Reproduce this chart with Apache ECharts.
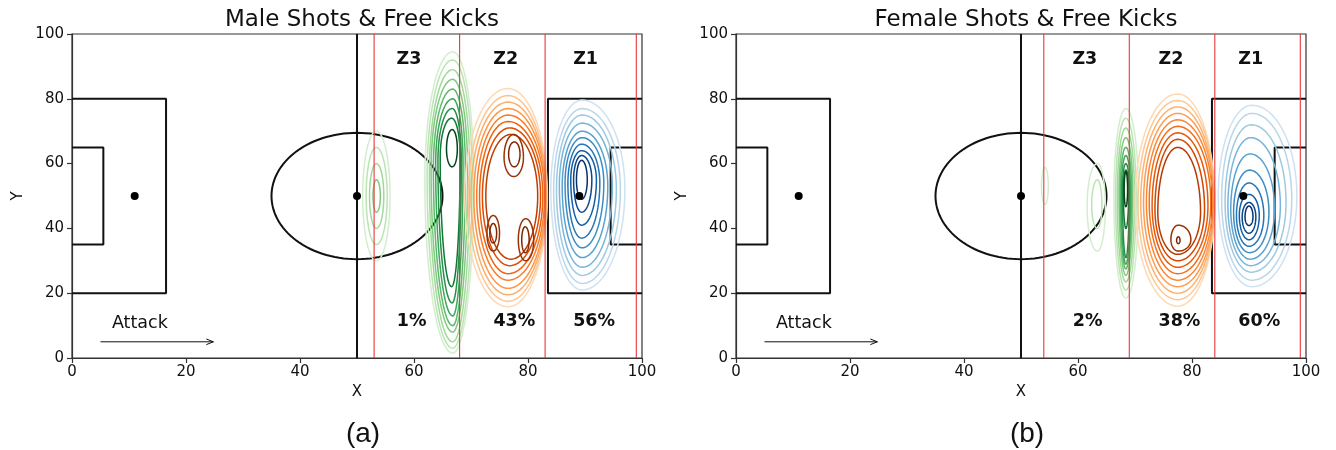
<!DOCTYPE html>
<html>
<head>
<meta charset="utf-8">
<script src="https://cdn.jsdelivr.net/npm/echarts@6/dist/echarts.min.js"></script>
<style>
html,body{margin:0;padding:0;background:#fff;}
#chart{width:1336px;height:450px;}
</style>
</head>
<body>
<div id="chart"></div>
<script>
// ---------------- DATA ----------------
const panelTitles = ['Male Shots & Free Kicks', 'Female Shots & Free Kicks'];
const panelTags = ['(a)', '(b)'];
const axisNames = ['X', 'Y'];
const axisMin = 0, axisMax = 100, tickStep = 20;

const zoneNames = ['Z3', 'Z2', 'Z1'];
const zoneBoundsMale = [53, 68, 83, 99];
const zoneBoundsFemale = [54, 69, 84, 99];
const zoneShareMale = ['1%', '43%', '56%'];
const zoneShareFemale = ['2%', '38%', '60%'];
const zoneNameXMale = [59.1, 76.1, 90.1];
const zoneShareXMale = [59.6, 77.6, 91.6];
const zoneNameXFemale = [61.2, 76.3, 90.3];
const zoneShareXFemale = [61.7, 77.8, 91.8];
const zoneNameY = 92;
const zoneShareY = 11.4;

// pitch geometry (data units)
const halfwayLine = [[50, 0], [50, 100]];
const penaltyBoxLeft = [[0, 80], [16.5, 80], [16.5, 20], [0, 20]];
const penaltyBoxRight = [[100, 80], [83.5, 80], [83.5, 20], [100, 20]];
const goalBoxLeft = [[0, 65], [5.5, 65], [5.5, 35], [0, 35]];
const goalBoxRight = [[100, 65], [94.5, 65], [94.5, 35], [100, 35]];
const centreCircle = [[50, 50, 15, 19.5]]; // cx, cy, rx, ry
const spots = [[11, 50], [50, 50], [89, 50]];
const attackArrow = [[5, 5, 24.8, 5]];
const attackLabel = { text: 'Attack', x: 7, y: 10.8 };

// contour levels: [level, xLeft, xRight, yBottom, yTop, xCentre, yCentre]
const maleGreen = [
  [0, 51.0, 55.8, 30, 70, 53.4, 50],
  [1, 51.6, 55.3, 35, 65, 53.4, 50],
  [2, 52.2, 54.7, 40, 60, 53.4, 50],
  [3, 52.8, 54.1, 45, 55, 53.4, 50],
  [0, 61.9, 70.5, 1.5, 94.5, 66.8, 55],
  [1, 62.3, 70.2, 3, 92, 66.8, 56],
  [2, 62.7, 69.8, 5, 89, 66.8, 57],
  [3, 63.0, 69.4, 8, 86, 66.8, 58],
  [4, 63.4, 69.0, 10, 83, 66.8, 59],
  [5, 63.8, 68.6, 13, 80, 66.8, 60],
  [6, 64.2, 68.3, 17, 77, 66.7, 61],
  [7, 64.6, 68.1, 22, 74, 66.6, 62],
  [9, 65.7, 67.6, 59, 70.5, 66.7, 64.5]
];
const maleOrange = [
  [0, 68.9, 83.4, 15.8, 83.2, 76.5, 50],
  [1, 69.5, 83.3, 17.5, 81, 76.5, 50],
  [2, 70.0, 83.2, 19.5, 79, 76.5, 50],
  [3, 70.5, 83.1, 21.5, 77, 76.5, 50],
  [4, 71.0, 82.9, 24, 75, 76.5, 50],
  [5, 71.5, 82.6, 26, 73, 76.5, 50],
  [6, 72.0, 82.2, 28.5, 71, 76.8, 50],
  [7, 72.6, 81.7, 30.5, 69, 77.0, 50],
  [8, 75.8, 79.2, 56, 69, 77.5, 62],
  [8, 72.8, 75.0, 33, 44, 73.9, 38.5],
  [8, 78.3, 81.0, 30, 43, 79.6, 36.5],
  [9, 76.6, 78.6, 59, 66.7, 77.6, 63],
  [9, 73.3, 74.5, 35.5, 41.5, 73.9, 38.5],
  [9, 78.9, 80.2, 32.5, 40.5, 79.5, 36.5]
];
const maleBlue = [
  [0, 84.0, 97.0, 21, 79.6, 89.5, 52],
  [1, 84.5, 96.2, 23, 77, 89.5, 52],
  [2, 85.0, 95.5, 25.5, 75, 89.5, 52],
  [3, 85.5, 94.8, 28, 72.5, 89.5, 53],
  [4, 86.0, 94.0, 31, 70, 89.5, 53],
  [5, 86.5, 93.3, 34, 68, 89.5, 54],
  [6, 87.0, 92.6, 37, 66, 89.4, 54],
  [7, 87.5, 92.0, 41, 64, 89.4, 55],
  [8, 88.0, 91.2, 45, 62.5, 89.4, 55],
  [9, 88.5, 90.4, 49, 61, 89.4, 55]
];
const femaleGreen = [
  [0, 53.6, 54.8, 47.4, 58.8, 54.2, 53],
  [0, 61.6, 64.8, 33, 60, 63.4, 47],
  [1, 62.4, 64.2, 40, 55, 63.4, 47],
  [0, 66.3, 70.6, 18.5, 77, 68.4, 50],
  [1, 66.6, 70.2, 21, 74, 68.4, 50],
  [2, 66.9, 69.9, 23.5, 71, 68.4, 50],
  [3, 67.2, 69.6, 25.5, 68, 68.4, 51],
  [4, 67.4, 69.4, 27.5, 65, 68.4, 51],
  [5, 67.6, 69.2, 29, 62.5, 68.4, 51],
  [6, 67.8, 69.0, 31, 60, 68.4, 52],
  [7, 67.95, 68.9, 40, 58, 68.4, 52],
  [9, 68.1, 68.7, 46.7, 57.5, 68.4, 52]
];
const femaleOrange = [
  [0, 70.0, 84.0, 16, 81.5, 77.5, 48],
  [1, 70.5, 84.0, 18, 79.5, 77.5, 48],
  [2, 71.0, 83.9, 20, 77.5, 77.5, 48],
  [3, 71.5, 83.8, 22, 75.5, 77.5, 48],
  [4, 72.0, 83.6, 24, 73.5, 77.5, 48],
  [5, 72.5, 83.3, 26, 71.5, 77.5, 48],
  [6, 73.0, 82.8, 28, 69.5, 77.5, 47],
  [7, 73.5, 82.2, 30, 67.5, 77.5, 46],
  [8, 74.0, 81.5, 32, 65, 77.5, 45],
  [9, 76.3, 79.8, 33, 41, 77.6, 36.5],
  [10, 77.3, 77.9, 35.3, 37.4, 77.6, 36.3]
];
const femaleBlue = [
  [0, 84.6, 98.4, 22, 78, 90.5, 50],
  [1, 85.2, 97.5, 24, 75.5, 90.5, 49],
  [2, 85.8, 96.5, 26.5, 72, 90.4, 48],
  [3, 86.3, 95.5, 28.5, 68, 90.3, 47],
  [4, 86.8, 94.5, 30.5, 63, 90.2, 46],
  [5, 87.3, 93.5, 32.5, 58, 90.1, 45],
  [6, 87.8, 92.6, 34.5, 54, 90.0, 44],
  [7, 88.3, 91.8, 36.5, 50.5, 90.0, 44],
  [8, 88.8, 91.2, 38.5, 48, 90.0, 43.5],
  [9, 89.3, 90.7, 40.9, 46.9, 90.0, 43.5]
];

// ---------------- STYLE ----------------
const FONT = 'DejaVu Sans';
const INK = '#111111';
const GREENS = ['#f7fcf5', '#e5f5e0', '#c7e9c0', '#a1d99b', '#74c476', '#41ab5d', '#238b45', '#006d2c', '#00441b'];
const ORANGES = ['#fff5eb', '#fee6ce', '#fdd0a2', '#fdae6b', '#fd8d3c', '#f16913', '#d94801', '#a63603', '#7f2704'];
const BLUES = ['#f7fbff', '#deebf7', '#c6dbef', '#9ecae1', '#6baed6', '#4292c6', '#2171b5', '#08519c', '#08306b'];

function hex2rgb(h) { return [parseInt(h.substr(1, 2), 16), parseInt(h.substr(3, 2), 16), parseInt(h.substr(5, 2), 16)]; }
function cmapColor(stops, t) {
  t = Math.max(0, Math.min(1, t));
  const p = t * (stops.length - 1);
  const i = Math.min(stops.length - 2, Math.floor(p));
  const f = p - i;
  const a = hex2rgb(stops[i]), b = hex2rgb(stops[i + 1]);
  return 'rgb(' + [0, 1, 2].map(k => Math.round(a[k] + (b[k] - a[k]) * f)).join(',') + ')';
}

const grids = [
  { left: 72, width: 570, top: 34, height: 324 },
  { left: 736, width: 570, top: 34, height: 324 }
];

function contourSeries(data, stops, maxLevel, gi) {
  return {
    type: 'custom', xAxisIndex: gi, yAxisIndex: gi, z: 3, silent: true,
    data: data,
    renderItem: function (params, api) {
      const lv = api.value(0), xL = api.value(1), xR = api.value(2), yB = api.value(3), yT = api.value(4), cx = api.value(5), cy = api.value(6);
      const pts = [];
      const n = 96;
      for (let k = 0; k <= n; k++) {
        const a = k / n * Math.PI * 2;
        const c = Math.cos(a), s = Math.sin(a);
        const x = cx + (c >= 0 ? (xR - cx) : (cx - xL)) * c;
        const y = cy + (s >= 0 ? (yT - cy) : (cy - yB)) * s;
        pts.push(api.coord([x, y]));
      }
      const t = 0.2 + 0.8 * lv / maxLevel;
      return { type: 'polyline', shape: { points: pts }, style: { stroke: cmapColor(stops, t), lineWidth: 1.5, fill: null } };
    }
  };
}

function pitchLine(data, gi) {
  return { type: 'line', xAxisIndex: gi, yAxisIndex: gi, data: data, symbol: 'none', silent: true, z: 2,
    lineStyle: { color: INK, width: 2 }, animation: false };
}

function panelSeries(gi, contours, bounds, shares, nameX, shareX) {
  const s = [];
  s.push(pitchLine(halfwayLine, gi));
  s.push(pitchLine(penaltyBoxLeft, gi));
  s.push(pitchLine(penaltyBoxRight, gi));
  s.push(pitchLine(goalBoxLeft, gi));
  s.push(pitchLine(goalBoxRight, gi));
  s.push({
    type: 'custom', xAxisIndex: gi, yAxisIndex: gi, z: 2, silent: true, data: centreCircle,
    renderItem: function (params, api) {
      const cx = api.value(0), cy = api.value(1), rx = api.value(2), ry = api.value(3);
      const pts = [];
      for (let k = 0; k <= 120; k++) {
        const a = k / 120 * Math.PI * 2;
        pts.push(api.coord([cx + rx * Math.cos(a), cy + ry * Math.sin(a)]));
      }
      return { type: 'polyline', shape: { points: pts }, style: { stroke: INK, lineWidth: 2, fill: null } };
    }
  });
  s.push(contourSeries(contours[0], GREENS, 9, gi));
  s.push(contourSeries(contours[1], ORANGES, contours[1].reduce((m, d) => Math.max(m, d[0]), 0), gi));
  s.push(contourSeries(contours[2], BLUES, 9, gi));
  s.push({
    type: 'custom', xAxisIndex: gi, yAxisIndex: gi, z: 4, silent: true, data: bounds.map(b => [b]),
    renderItem: function (params, api) {
      const p0 = api.coord([api.value(0), axisMin]);
      const p1 = api.coord([api.value(0), axisMax]);
      return { type: 'line', shape: { x1: p0[0], y1: p0[1], x2: p1[0], y2: p1[1] }, style: { stroke: '#e8393a', lineWidth: 1.1 } };
    }
  });
  s.push({
    type: 'scatter', xAxisIndex: gi, yAxisIndex: gi, z: 5, silent: true, data: spots,
    symbolSize: 8, itemStyle: { color: '#000', opacity: 1 }
  });
  // arrow
  s.push({
    type: 'custom', xAxisIndex: gi, yAxisIndex: gi, z: 5, silent: true, data: attackArrow,
    renderItem: function (params, api) {
      const a = api.coord([api.value(0), api.value(1)]);
      const b = api.coord([api.value(2), api.value(3)]);
      return { type: 'group', children: [
        { type: 'line', shape: { x1: a[0], y1: a[1], x2: b[0], y2: b[1] }, style: { stroke: INK, lineWidth: 1 } },
        { type: 'polyline', shape: { points: [[b[0] - 7, b[1] - 2.8], [b[0], b[1]], [b[0] - 7, b[1] + 2.8]] }, style: { stroke: INK, lineWidth: 1, fill: null } }
      ] };
    }
  });
  // texts
  const texts = [];
  texts.push([attackLabel.x, attackLabel.y, attackLabel.text, 'normal', 'left']);
  zoneNames.forEach((z, i) => texts.push([nameX[i], zoneNameY, z, 'bold', 'center']));
  shares.forEach((z, i) => texts.push([shareX[i], zoneShareY, z, 'bold', 'center']));
  s.push({
    type: 'custom', xAxisIndex: gi, yAxisIndex: gi, z: 6, silent: true, data: texts,
    renderItem: function (params, api) {
      const d = texts[params.dataIndex];
      const p = api.coord([d[0], d[1]]);
      return { type: 'text', x: p[0], y: p[1], style: { text: d[2], fontFamily: FONT, fontSize: 17.5, fontWeight: d[3],
        textAlign: d[4], textVerticalAlign: 'middle', fill: INK } };
    }
  });
  return s;
}

const xAxes = [], yAxes = [];
[0, 1].forEach(gi => {
  xAxes.push({
    type: 'value', gridIndex: gi, min: axisMin, max: axisMax, interval: tickStep,
    name: axisNames[0], nameLocation: 'middle', nameGap: 26,
    nameTextStyle: { fontFamily: FONT, fontSize: 15, color: INK },
    axisLine: { show: true, onZero: false, lineStyle: { color: '#333', width: 1.2 } },
    axisTick: { show: true, inside: false, length: 5, lineStyle: { color: '#333', width: 1.2 } },
    axisLabel: { fontFamily: FONT, fontSize: 15, color: INK, margin: 7 },
    splitLine: { show: false }
  });
  yAxes.push({
    type: 'value', gridIndex: gi, min: axisMin, max: axisMax, interval: tickStep,
    name: axisNames[1], nameLocation: 'middle', nameGap: 46, nameRotate: 90,
    nameTextStyle: { fontFamily: FONT, fontSize: 15, color: INK },
    axisLine: { show: true, onZero: false, lineStyle: { color: '#333', width: 1.2 } },
    axisTick: { show: true, inside: false, length: 5, lineStyle: { color: '#333', width: 1.2 } },
    axisLabel: { fontFamily: FONT, fontSize: 15, color: INK, margin: 8 },
    splitLine: { show: false }
  });
});

const titles = [];
[0, 1].forEach(gi => {
  const cx = grids[gi].left + grids[gi].width / 2;
  titles.push({ text: panelTitles[gi], left: cx, top: 4, textAlign: 'center',
    textStyle: { fontFamily: FONT, fontSize: 23, fontWeight: 'normal', color: INK } });
  titles.push({ text: panelTags[gi], left: cx + 1, top: 415, textAlign: 'center',
    textStyle: { fontFamily: 'Liberation Sans', fontSize: 28, fontWeight: 'normal', color: INK } });
});

const option = {
  animation: false,
  backgroundColor: '#ffffff',
  title: titles,
  grid: grids.map(g => Object.assign({ show: true, borderColor: '#333', borderWidth: 1.2, backgroundColor: 'transparent' }, g)),
  xAxis: xAxes,
  yAxis: yAxes,
  series: [].concat(
    panelSeries(0, [maleGreen, maleOrange, maleBlue], zoneBoundsMale, zoneShareMale, zoneNameXMale, zoneShareXMale),
    panelSeries(1, [femaleGreen, femaleOrange, femaleBlue], zoneBoundsFemale, zoneShareFemale, zoneNameXFemale, zoneShareXFemale)
  )
};

const chart = echarts.init(document.getElementById('chart'), null, { renderer: 'canvas' });
chart.setOption(option);
</script>
</body>
</html>
